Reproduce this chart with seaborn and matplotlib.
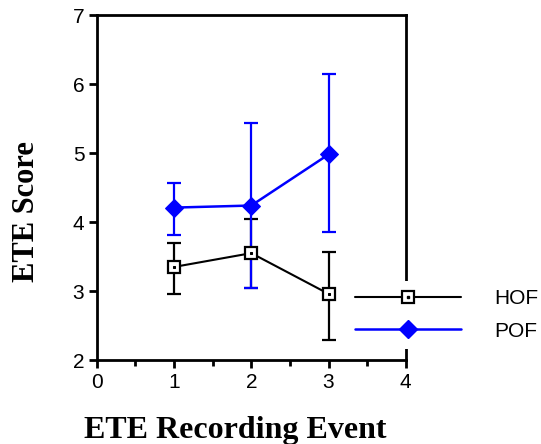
import matplotlib
matplotlib.use("Agg")
import matplotlib.pyplot as plt
import seaborn as sns
import pandas as pd
from matplotlib.ticker import MultipleLocator
from matplotlib.legend_handler import HandlerTuple
from matplotlib.lines import Line2D

events = [1, 2, 3]
hof_mean = [3.35, 3.55, 2.96]
hof_upper = [3.69, 4.04, 3.57]
hof_lower = [2.96, 3.05, 2.29]
pof_mean = [4.21, 4.24, 4.98]
pof_upper = [4.56, 5.44, 6.15]
pof_lower = [3.82, 3.05, 3.85]
series_names = ["HOF", "POF"]

sns.set_theme(style="ticks")
plt.rcParams['font.family'] = ['Liberation Sans', 'DejaVu Sans']
plt.rcParams['text.color'] = 'black'
plt.rcParams['axes.labelcolor'] = 'black'
plt.rcParams['xtick.color'] = 'black'
plt.rcParams['ytick.color'] = 'black'

fig = plt.figure(figsize=(5.41, 4.44), dpi=100)
ax = fig.add_axes([0.179, 0.189, 0.571, 0.777])

df = pd.DataFrame({
    "event": events * 2,
    "score": hof_mean + pof_mean,
    "group": ["HOF"] * 3 + ["POF"] * 3,
})

ax.errorbar(events, hof_mean,
            yerr=[[m - l for m, l in zip(hof_mean, hof_lower)],
                  [u - m for m, u in zip(hof_mean, hof_upper)]],
            fmt="none", ecolor="black", elinewidth=1.6, capsize=5, capthick=1.6, zorder=2)
ax.errorbar(events, pof_mean,
            yerr=[[m - l for m, l in zip(pof_mean, pof_lower)],
                  [u - m for m, u in zip(pof_mean, pof_upper)]],
            fmt="none", ecolor="#0000ff", elinewidth=1.6, capsize=5, capthick=1.6, zorder=2)

hof_df = df[df.group == "HOF"]
pof_df = df[df.group == "POF"]
sns.lineplot(data=hof_df, x="event", y="score", ax=ax, color="black", lw=1.5,
             marker="s", markersize=8.5, markerfacecolor="white", markeredgecolor="black",
             markeredgewidth=1.6, zorder=3, legend=False)
sns.lineplot(data=hof_df, x="event", y="score", ax=ax, color="black", lw=0,
             marker="s", markersize=1.6, markerfacecolor="black", markeredgecolor="black",
             zorder=4, legend=False)
sns.lineplot(data=pof_df, x="event", y="score", ax=ax, color="#0000ff", lw=1.8,
             marker="D", markersize=9.5, markerfacecolor="#0000ff", markeredgecolor="#0000ff",
             zorder=3, legend=False)

ax.set_xlim(0, 4)
ax.set_ylim(2, 7)
ax.xaxis.set_major_locator(MultipleLocator(1))
ax.xaxis.set_minor_locator(MultipleLocator(0.5))
ax.yaxis.set_major_locator(MultipleLocator(1))
ax.tick_params(axis="both", which="major", direction="out", length=6, width=2,
               labelsize=15, color="black", labelcolor="black", pad=3)
ax.tick_params(axis="x", which="minor", direction="out", length=4, width=2, color="black")
for s in ax.spines.values():
    s.set_linewidth(2)
    s.set_color("black")

ax.set_xlabel("ETE Recording Event", fontsize=23, fontweight="bold",
              family=["Liberation Serif"], color="black")
ax.set_ylabel("ETE Score", fontsize=22, fontweight="bold",
              family=["Liberation Serif"], color="black")
ax.xaxis.set_label_coords(0.447, -0.163)
ax.yaxis.set_label_coords(-0.182, 0.43)

h1 = Line2D([], [], color="black", lw=1.5, marker="s", markersize=8.5,
            markerfacecolor="white", markeredgecolor="black", markeredgewidth=1.6)
h1d = Line2D([], [], color="black", lw=0, marker="s", markersize=1.6)
h2 = Line2D([], [], color="#0000ff", lw=1.8, marker="D", markersize=9.5,
            markerfacecolor="#0000ff", markeredgecolor="#0000ff")
leg = ax.legend([(h1, h1d), h2], series_names, loc="upper left",
                bbox_to_anchor=(0.641, 0.367), bbox_transform=fig.transFigure,
                handler_map={tuple: HandlerTuple(ndivide=1, pad=0)},
                frameon=True, facecolor="white", edgecolor="none", framealpha=1,
                fancybox=False, fontsize=15, handlelength=5.1, handletextpad=1.6,
                labelspacing=0.64, borderpad=0.4, borderaxespad=0, numpoints=1)
for t in leg.get_texts():
    t.set_color("black")

fig.savefig("out.png", dpi=100)
